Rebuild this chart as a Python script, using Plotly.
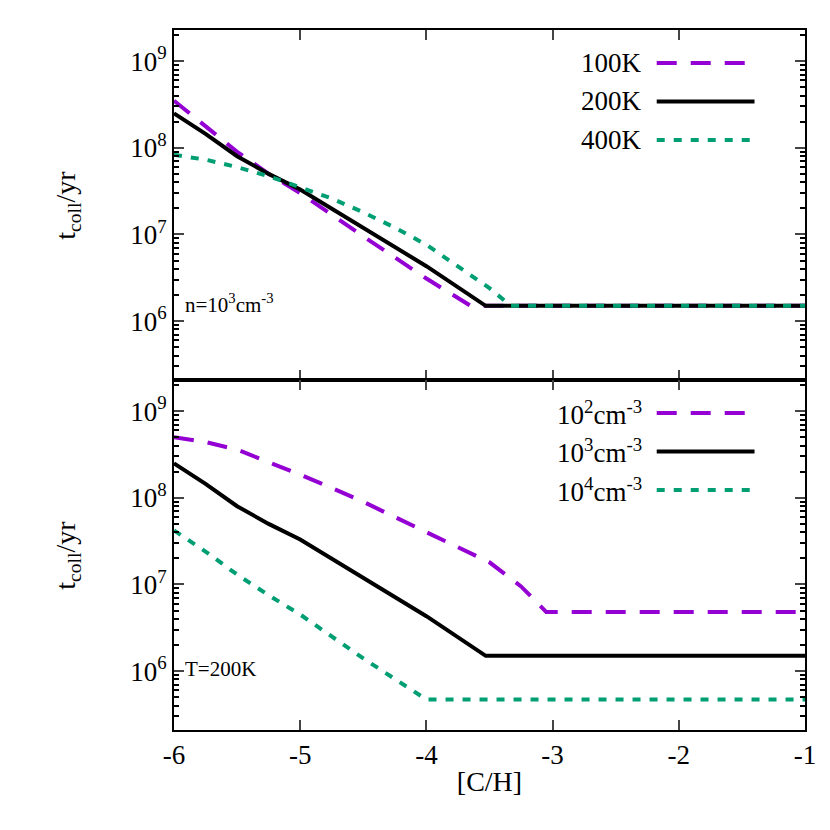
import plotly.graph_objects as go

x100 = [-6, -5.75, -5.5, -5.25, -5, -4.5, -4, -3.65, -1]
y100 = [3.5e8, 1.8e8, 9.0e7, 5.0e7, 3.0e7, 9.5e6, 3.1e6, 1.5e6, 1.5e6]
x200 = [-6, -5.75, -5.5, -5.25, -5, -4.5, -4, -3.53, -1]
y200 = [2.5e8, 1.45e8, 8.0e7, 5.0e7, 3.3e7, 1.2e7, 4.3e6, 1.5e6, 1.5e6]
x400 = [-6, -5.75, -5.5, -5.25, -5, -4.75, -4.5, -4.25, -4, -3.75, -3.5, -3.33, -1]
y400 = [8.3e7, 7.3e7, 6.0e7, 4.7e7, 3.5e7, 2.6e7, 1.8e7, 1.2e7, 7.6e6, 4.3e6, 2.4e6, 1.5e6, 1.5e6]

xn2 = [-6, -5.75, -5.5, -5.25, -5, -4.75, -4.5, -4.25, -4, -3.75, -3.5, -3.25, -3.05, -1]
yn2 = [5.0e8, 4.4e8, 3.6e8, 2.6e8, 1.85e8, 1.3e8, 9.0e7, 6.0e7, 4.0e7, 2.7e7, 1.8e7, 9.5e6, 4.8e6, 4.8e6]
xn3 = x200
yn3 = y200
xn4 = [-6, -5.75, -5.5, -5.25, -5, -4.5, -4.0, -1]
yn4 = [4.2e7, 2.4e7, 1.3e7, 7.5e6, 4.5e6, 1.4e6, 4.7e5, 4.7e5]

purple = "#9400d3"
green = "#009e73"
F = "Liberation Serif"
DASH = "20px,14px"
DOT = "8px,9px"

fig = go.Figure()
def add(x, y, col, dash, ax):
    fig.add_trace(go.Scatter(x=x, y=y, mode="lines", line=dict(color=col, width=4, dash=dash),
                             xaxis="x" if ax == 1 else "x2", yaxis="y" if ax == 1 else "y2", showlegend=False))
add(x100, y100, purple, DASH, 1)
add(x200, y200, "black", "solid", 1)
add(x400, y400, green, DOT, 1)
add(xn2, yn2, purple, DASH, 2)
add(xn3, yn3, "black", "solid", 2)
add(xn4, yn4, green, DOT, 2)

majors = [1e6, 1e7, 1e8, 1e9]
minors = [m * 10**e for e in range(5, 10) for m in range(2, 10)]
tf = dict(family=F, size=27, color="black")
yax = dict(type="log", range=[5.32, 9.36], tickvals=majors,
           ticktext=["10<sup>6</sup>", "10<sup>7</sup>", "10<sup>8</sup>", "10<sup>9</sup>"],
           ticks="inside", ticklen=10, tickwidth=1.5, mirror="allticks", showline=True, linecolor="black",
           linewidth=2, showgrid=False, zeroline=False, tickfont=tf, automargin=False,
           minor=dict(tickvals=minors, ticks="inside", ticklen=5, tickcolor="black", showgrid=False))
xax = dict(range=[-6, -1], tickvals=[-6, -5, -4, -3, -2, -1], ticktext=["-6", "-5", "-4", "-3", "-2", "-1"],
           ticks="inside", ticklen=10, tickwidth=1.5,
           mirror="allticks", showline=True, linecolor="black", linewidth=2, showgrid=False, zeroline=False,
           tickfont=tf, automargin=False)
fig.update_layout(
    width=830, height=830, margin=dict(l=166, r=33, t=22, b=108, autoexpand=False),
    font=dict(family=F, size=27, color="black"),
    plot_bgcolor="white", paper_bgcolor="white",
    xaxis=dict(xax, anchor="y", showticklabels=False),
    yaxis=dict(yax, domain=[0.5, 1], anchor="x"),
    xaxis2=dict(xax, anchor="y2", title=dict(text="[C/H]", font=dict(family=F, size=28, color="black"), standoff=2)),
    yaxis2=dict(yax, domain=[0, 0.5], anchor="x2"),
)

ann = []
def legend(labels, cols, dashes, ys):
    for lab, c, d, yy in zip(labels, cols, dashes, ys):
        ann.append(dict(text=lab, x=0.745, y=yy, xref="paper", yref="paper", xanchor="right", yanchor="middle",
                        showarrow=False, font=dict(family=F, size=27, color="black")))
        fig.add_shape(type="line", xref="paper", yref="paper", x0=0.765, x1=0.92, y0=yy, y1=yy,
                      line=dict(color=c, width=4, dash=d))
cols = [purple, "black", green]
dashes = [DASH, "solid", DOT]
legend(["100K", "200K", "400K"], cols, dashes, [0.953, 0.898, 0.843])
legend(["10<sup>2</sup>cm<sup>-3</sup>", "10<sup>3</sup>cm<sup>-3</sup>", "10<sup>4</sup>cm<sup>-3</sup>"],
       cols, dashes, [0.453, 0.398, 0.343])
ann.append(dict(text="n=10<sup>3</sup>cm<sup>-3</sup>", x=0.015, y=0.61, xref="paper", yref="paper",
                xanchor="left", yanchor="middle", showarrow=False, font=dict(family=F, size=21, color="black")))
ann.append(dict(text="T=200K", x=0.015, y=0.087, xref="paper", yref="paper",
                xanchor="left", yanchor="middle", showarrow=False, font=dict(family=F, size=21, color="black")))
for yy in [0.75, 0.25]:
    ann.append(dict(text="t<sub>coll</sub>/yr", x=-0.17, y=yy, xref="paper", yref="paper", textangle=-90,
                    xanchor="center", yanchor="middle", showarrow=False, font=dict(family=F, size=28, color="black")))
fig.update_layout(annotations=ann)
fig.write_html("out.html")
